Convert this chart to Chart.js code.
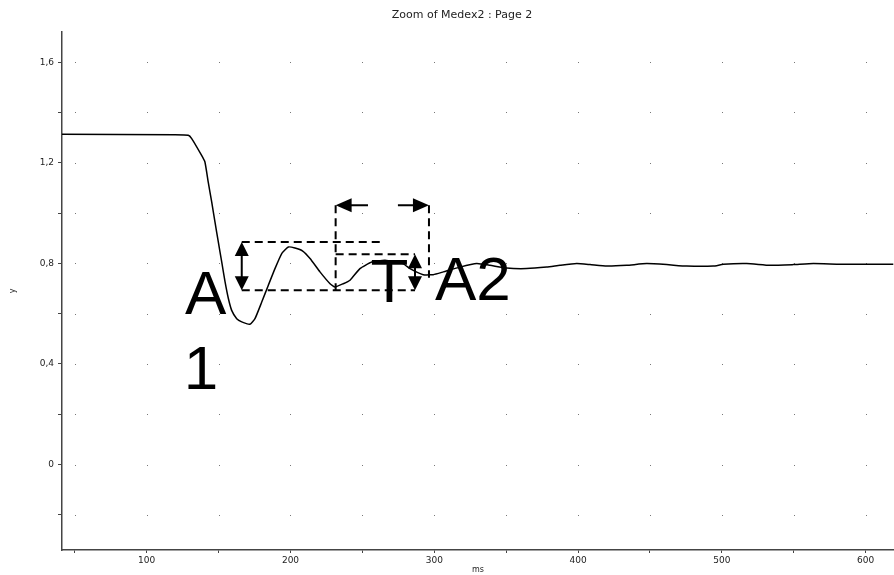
<!DOCTYPE html>
<html lang="en">
<head>
    <meta charset="UTF-8">
    <title>Zoom of Medex2 : Page 2</title>
    <style>
        html, body { margin: 0; padding: 0; background: #fff; }
        #wrap { width: 894px; height: 575px; }
    </style>
</head>
<body>
<div id="wrap">
    <canvas id="trace" width="894" height="575"></canvas>
</div>

<script src="https://cdn.jsdelivr.net/npm/chart.js@4.4.1/dist/chart.umd.min.js"></script>
<script>
    // Pressure trace, time in ms
    const times = [
        41.1, 119.7, 128.9, 131.3, 138.2, 140.5, 142.8, 145.2, 147.5, 149.8,
        152.2, 154.5, 156.8, 159.1, 162.6, 166.1, 171.8, 175.3, 180.0, 184.6,
        189.2, 193.9, 198.5, 203.1, 208.5, 213.6, 220.5, 227.5, 231.0, 236.7,
        241.4, 248.3, 256.5, 265.7, 278.2, 283.1, 292.3, 299.3, 306.3, 317.9,
        329.5, 338.7, 350.3, 364.2, 378.2, 387.4, 399.0, 408.3, 419.9, 433.8,
        447.7, 461.6, 475.5, 494.0, 501.0, 517.3, 533.5, 549.7, 563.6, 582.1,
        598.3, 619.2
    ];
    const values = [
        1.313, 1.311, 1.309, 1.296, 1.229, 1.203, 1.123, 1.044, 0.964, 0.885,
        0.805, 0.726, 0.660, 0.613, 0.580, 0.567, 0.558, 0.580, 0.646, 0.713,
        0.779, 0.839, 0.865, 0.861, 0.849, 0.819, 0.766, 0.719, 0.706, 0.719,
        0.733, 0.779, 0.805, 0.812, 0.799, 0.779, 0.755, 0.755, 0.766, 0.785,
        0.799, 0.792, 0.781, 0.779, 0.785, 0.792, 0.799, 0.795, 0.789, 0.792,
        0.799, 0.795, 0.789, 0.789, 0.796, 0.799, 0.792, 0.795, 0.799, 0.796,
        0.796, 0.796
    ];

    // Axis ticks (labels only on every other one)
    const xTicks = [50, 100, 150, 200, 250, 300, 350, 400, 450, 500, 550, 600];
    const xLabels = { 100: '100', 200: '200', 300: '300', 400: '400', 500: '500', 600: '600' };
    const yTicks = [-0.2, 0, 0.2, 0.4, 0.6, 0.8, 1.0, 1.2, 1.4, 1.6];
    const yLabels = { '0': '0', '0.4': '0,4', '0.8': '0,8', '1.2': '1,2', '1.6': '1,6' };

    // Measurement marks, in ms / y units
    const dashedLines = [
        [166.1, 0.885, 264.5, 0.885],
        [166.1, 0.693, 286.6, 0.693],
        [231.4, 0.836, 286.6, 0.836],
        [231.4, 1.031, 231.4, 0.693],
        [296.3, 1.031, 296.3, 0.743]
    ];
    const doubleArrows = [
        [166.1, 0.885, 166.1, 0.693],
        [286.6, 0.836, 286.6, 0.693]
    ];
    // tail -> tip
    const singleArrows = [
        [253.9, 1.031, 231.4, 1.031],
        [274.7, 1.031, 296.3, 1.031]
    ];
    const markLabels = [
        { text: 'A', x: 126.6, y: 0.600 },
        { text: '1', x: 125.8, y: 0.302 },
        { text: 'T', x: 255.6, y: 0.646 },
        { text: 'A2', x: 300.5, y: 0.653 }
    ];

    const points = times.map((t, i) => ({ x: t, y: values[i] }));

    function head(ctx, tx, ty, dx, dy, len, half) {
        const px = -dy, py = dx;
        ctx.beginPath();
        ctx.moveTo(tx, ty);
        ctx.lineTo(tx - dx * len + px * half, ty - dy * len + py * half);
        ctx.lineTo(tx - dx * len - px * half, ty - dy * len - py * half);
        ctx.closePath();
        ctx.fill();
    }

    const dotGrid = {
        id: 'dotGrid',
        beforeDatasetsDraw(chart) {
            const { ctx, scales: { x, y } } = chart;
            ctx.save();
            ctx.fillStyle = '#777';
            xTicks.forEach(tx => {
                const px = Math.round(x.getPixelForValue(tx));
                yTicks.forEach(ty => {
                    const py = Math.round(y.getPixelForValue(ty));
                    ctx.fillRect(px, py, 1, 1);
                });
            });
            ctx.restore();
        },
        afterDraw(chart) {
            const { ctx } = chart;
            ctx.save();
            ctx.fillStyle = '#222';
            ctx.font = '11px "DejaVu Sans", Verdana, sans-serif';
            ctx.textAlign = 'center';
            ctx.textBaseline = 'middle';
            ctx.fillText('Zoom of Medex2 : Page 2', 462, 15);
            ctx.restore();
        }
    };

    const marks = {
        id: 'marks',
        afterDatasetsDraw(chart) {
            const { ctx, scales: { x, y } } = chart;
            const X = v => x.getPixelForValue(v);
            const Y = v => y.getPixelForValue(v);
            ctx.save();
            ctx.strokeStyle = '#000';
            ctx.fillStyle = '#000';
            ctx.lineWidth = 2;

            ctx.setLineDash([8, 5]);
            dashedLines.forEach(([x1, y1, x2, y2]) => {
                ctx.beginPath();
                ctx.moveTo(X(x1), Y(y1));
                ctx.lineTo(X(x2), Y(y2));
                ctx.stroke();
            });
            ctx.setLineDash([]);

            doubleArrows.forEach(([x1, y1, x2, y2]) => {
                const ax = X(x1), ay = Y(y1), bx = X(x2), by = Y(y2);
                const d = Math.hypot(bx - ax, by - ay);
                const ux = (bx - ax) / d, uy = (by - ay) / d;
                ctx.beginPath();
                ctx.moveTo(ax + ux * 10, ay + uy * 10);
                ctx.lineTo(bx - ux * 10, by - uy * 10);
                ctx.stroke();
                head(ctx, bx, by, ux, uy, 14, 7);
                head(ctx, ax, ay, -ux, -uy, 14, 7);
            });

            singleArrows.forEach(([x1, y1, x2, y2]) => {
                const ax = X(x1), ay = Y(y1), bx = X(x2), by = Y(y2);
                const d = Math.hypot(bx - ax, by - ay);
                const ux = (bx - ax) / d, uy = (by - ay) / d;
                ctx.beginPath();
                ctx.moveTo(ax, ay);
                ctx.lineTo(bx - ux * 10, by - uy * 10);
                ctx.stroke();
                head(ctx, bx, by, ux, uy, 16, 7);
            });

            ctx.font = '62px "Liberation Sans", Arial, sans-serif';
            ctx.textAlign = 'left';
            ctx.textBaseline = 'alphabetic';
            markLabels.forEach(l => ctx.fillText(l.text, X(l.x), Y(l.y)));
            ctx.restore();
        }
    };

    const tickFont = { family: '"DejaVu Sans", Verdana, sans-serif', size: 9 };

    new Chart(document.getElementById('trace'), {
        type: 'line',
        data: {
            datasets: [{
                data: points,
                borderColor: '#000',
                borderWidth: 1.5,
                pointRadius: 0,
                tension: 0.15,
                fill: false
            }]
        },
        options: {
            responsive: false,
            devicePixelRatio: 1,
            animation: false,
            layout: { padding: { top: 32, right: 0, left: 0, bottom: 0 } },
            plugins: {
                legend: { display: false },
                tooltip: { enabled: false },
                title: { display: false }
            },
            scales: {
                x: {
                    type: 'linear',
                    min: 41.1,
                    max: 619.7,
                    afterBuildTicks: s => { s.ticks = xTicks.map(v => ({ value: v })); },
                    afterFit: s => { s.height = 25; },
                    grid: { drawOnChartArea: false, drawTicks: true, tickLength: 3, color: '#444' },
                    border: { color: '#444', width: 1.5 },
                    ticks: {
                        autoSkip: false,
                        maxRotation: 0,
                        padding: 2,
                        color: '#222',
                        font: tickFont,
                        callback: v => xLabels[v] || ''
                    },
                    title: {
                        display: true,
                        text: 'ms',
                        color: '#222',
                        font: { family: '"DejaVu Sans", Verdana, sans-serif', size: 8 },
                        padding: { top: 0, bottom: 0 }
                    }
                },
                y: {
                    type: 'linear',
                    min: -0.34,
                    max: 1.72,
                    afterBuildTicks: s => { s.ticks = yTicks.map(v => ({ value: v })); },
                    afterFit: s => { s.width = 62; },
                    grid: { drawOnChartArea: false, drawTicks: true, tickLength: 4, color: '#444' },
                    border: { color: '#444', width: 1.5 },
                    ticks: {
                        autoSkip: false,
                        padding: 4,
                        color: '#222',
                        font: tickFont,
                        callback: v => yLabels[String(Math.round(v * 10) / 10)] || ''
                    },
                    title: {
                        display: true,
                        text: 'y',
                        color: '#222',
                        font: { family: '"DejaVu Sans", Verdana, sans-serif', size: 8 },
                        padding: { top: 8, bottom: 0 }
                    }
                }
            }
        },
        plugins: [dotGrid, marks]
    });
</script>
</body>
</html>
